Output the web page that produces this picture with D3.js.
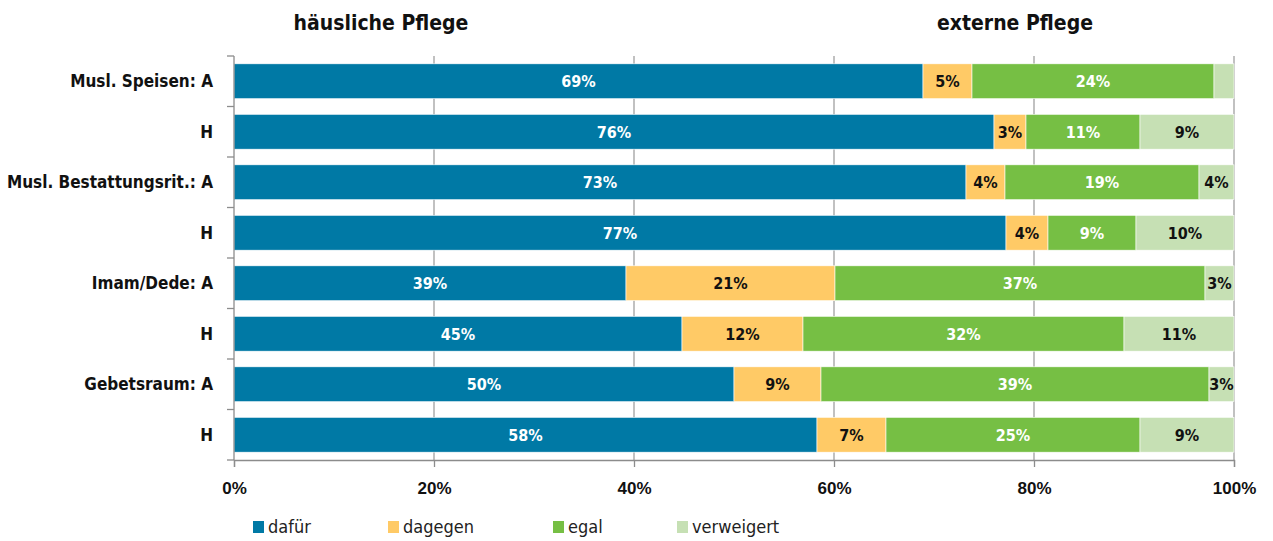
<!DOCTYPE html>
<html>
<head>
<meta charset="utf-8">
<script src="https://cdn.jsdelivr.net/npm/d3@7"></script>
<style>
  body { margin: 0; background: #fff; }
  svg { font-family: "Liberation Sans Narrow", "DejaVu Sans Condensed", sans-serif; }
</style>
</head>
<body>
<div id="chart"></div>
<script>
// categories, top to bottom
var categories = ["Musl. Speisen: A", "H", "Musl. Bestattungsrit.: A", "H", "Imam/Dede: A", "H", "Gebetsraum: A", "H"];
var seriesNames = ["dafür", "dagegen", "egal", "verweigert"];
var seriesColors = ["#0079a5", "#ffca66", "#76bf44", "#c6e0b4"];
var labelColors = ["#fff", "#111", "#fff", "#111"];

// percentages
var dafuer     = [68.9, 76.0, 73.2, 77.2, 39.2, 44.8, 50.0, 58.3];
var dagegen    = [4.9, 3.2, 3.9, 4.2, 20.9, 12.1, 8.7, 6.9];
var egal       = [24.2, 11.4, 19.4, 8.8, 37.0, 32.1, 38.8, 25.4];
var verweigert = [2.0, 9.4, 3.5, 9.8, 2.9, 11.0, 2.5, 9.4];

var xTicks = [0, 20, 40, 60, 80, 100];

var width = 1273, height = 541;
var margin = {top: 56, right: 39, bottom: 81, left: 234};

var svg = d3.select("#chart").append("svg")
  .attr("width", width)
  .attr("height", height);

var x = d3.scaleLinear().domain([0, 100]).range([margin.left, width - margin.right]);
var y = d3.scaleBand().domain(d3.range(categories.length))
  .range([margin.top, height - margin.bottom])
  .paddingInner(0.31).paddingOuter(0.155);

// gridlines
svg.append("g").selectAll("line")
  .data(xTicks.slice(1))
  .enter().append("line")
    .attr("x1", function(d){ return x(d); })
    .attr("x2", function(d){ return x(d); })
    .attr("y1", margin.top)
    .attr("y2", height - margin.bottom)
    .attr("stroke", "#a0a0a0")
    .attr("stroke-width", 1.3);

// stacked rows
var table = categories.map(function(c, i){
  return {i: i, vals: [dafuer[i], dagegen[i], egal[i], verweigert[i]]};
});

var rows = svg.append("g").selectAll("g")
  .data(table)
  .enter().append("g");

rows.each(function(row){
  var g = d3.select(this);
  var start = 0;
  row.vals.forEach(function(v, k){
    var x0 = x(start), x1 = x(start + v);
    g.append("rect")
      .attr("x", x0)
      .attr("y", y(row.i))
      .attr("width", x1 - x0)
      .attr("height", y.bandwidth())
      .attr("fill", seriesColors[k])
      .attr("stroke", "#fff")
      .attr("stroke-width", 0.6);
    if (v >= 2.4) {
      g.append("text")
        .attr("x", (x0 + x1) / 2)
        .attr("y", y(row.i) + y.bandwidth() / 2)
        .attr("dy", "0.36em")
        .attr("text-anchor", "middle")
        .attr("font-size", 16)
        .attr("font-weight", "bold")
        .attr("fill", labelColors[k])
        .text(Math.round(v) + "%");
    }
    start += v;
  });
});

// left axis
var yAxis = svg.append("g")
  .attr("transform", "translate(" + margin.left + ",0)");
yAxis.append("line")
  .attr("x1", 0).attr("x2", 0)
  .attr("y1", margin.top).attr("y2", height - margin.bottom)
  .attr("stroke", "#8c8c8c").attr("stroke-width", 1.3);
yAxis.selectAll("line.tick")
  .data(d3.range(categories.length + 1))
  .enter().append("line")
    .attr("class", "tick")
    .attr("x1", -7).attr("x2", 0)
    .attr("y1", function(d){ return margin.top + d * y.step(); })
    .attr("y2", function(d){ return margin.top + d * y.step(); })
    .attr("stroke", "#8c8c8c").attr("stroke-width", 1.3);
yAxis.selectAll("text")
  .data(categories)
  .enter().append("text")
    .attr("x", -21)
    .attr("y", function(d, i){ return y(i) + y.bandwidth() / 2; })
    .attr("dy", "0.36em")
    .attr("text-anchor", "end")
    .attr("font-size", 17)
    .attr("font-weight", "bold")
    .attr("fill", "#111")
    .text(function(d){ return d; });

// bottom axis
var xAxis = svg.append("g")
  .attr("transform", "translate(0," + (height - margin.bottom) + ")")
  .call(d3.axisBottom(x).tickValues(xTicks).tickSize(7).tickPadding(15)
    .tickFormat(function(d){ return d + "%"; }));
xAxis.select(".domain").attr("stroke", "#8c8c8c").attr("stroke-width", 1.3);
xAxis.selectAll(".tick line").attr("stroke", "#8c8c8c").attr("stroke-width", 1.3);
xAxis.selectAll(".tick text")
  .attr("font-family", "inherit")
  .attr("font-size", 17)
  .attr("font-weight", "bold")
  .attr("fill", "#111");

// titles
svg.append("text")
  .attr("x", 381).attr("y", 30)
  .attr("text-anchor", "middle")
  .attr("font-size", 21).attr("font-weight", "bold")
  .attr("fill", "#111")
  .text("häusliche Pflege");
svg.append("text")
  .attr("x", 1015).attr("y", 30)
  .attr("text-anchor", "middle")
  .attr("font-size", 21).attr("font-weight", "bold")
  .attr("fill", "#111")
  .text("externe Pflege");

// legend
var legendX = [253, 388, 553, 677];
var legend = svg.append("g").selectAll("g")
  .data(seriesNames)
  .enter().append("g")
    .attr("transform", function(d, i){ return "translate(" + legendX[i] + ",521)"; });
legend.append("rect")
  .attr("width", 11).attr("height", 12)
  .attr("fill", function(d, i){ return seriesColors[i]; });
legend.append("text")
  .attr("x", 15).attr("y", 6)
  .attr("dy", "0.36em")
  .attr("font-size", 18)
  .attr("fill", "#222")
  .text(function(d){ return d; });
</script>
</body>
</html>
